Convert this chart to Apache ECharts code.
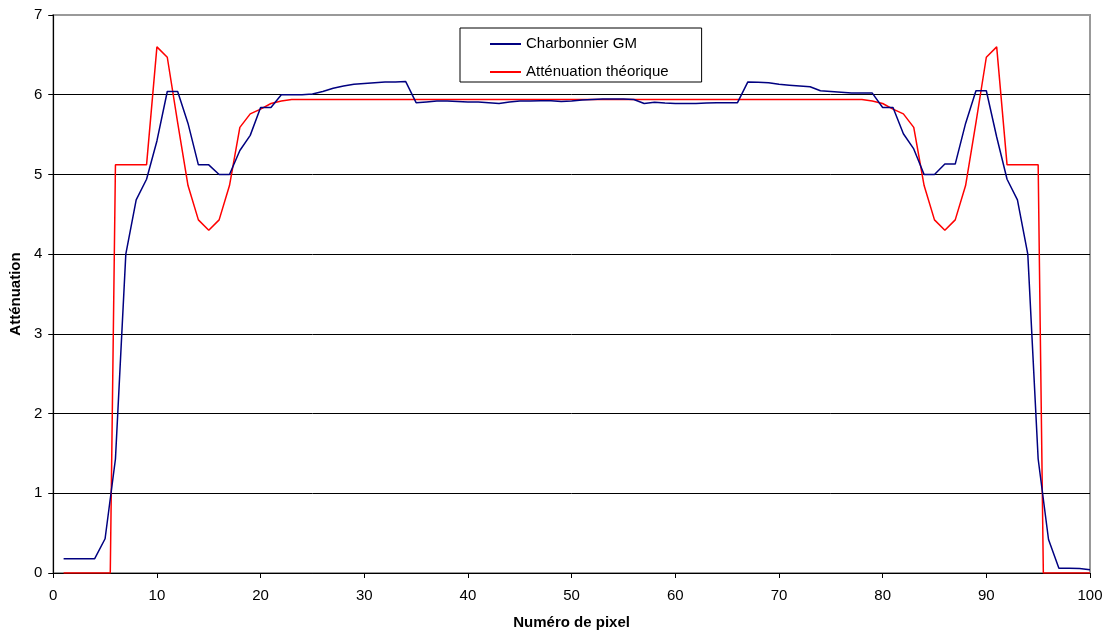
<!DOCTYPE html>
<html>
<head>
<meta charset="utf-8">
<script src="https://cdn.jsdelivr.net/npm/echarts@6/dist/echarts.min.js"></script>
<style>html,body{margin:0;padding:0;background:#fff;}#c{width:1109px;height:635px;}</style>
</head>
<body>
<div id="c"></div>
<script>
// Pixel indices (x) for the measured curve
const pixels = [1,2,3,4,5,6,7,8,9,10,11,12,13,14,15,16,17,18,19,20,
  21,22,23,24,25,26,27,28,29,30,31,32,33,34,35,36,37,38,39,40,
  41,42,43,44,45,46,47,48,49,50,51,52,53,54,55,56,57,58,59,60,
  61,62,63,64,65,66,67,68,69,70,71,72,73,74,75,76,77,78,79,80,
  81,82,83,84,85,86,87,88,89,90,91,92,93,94,95,96,97,98,99,100];
// Charbonnier GM
const charbonnier = [0.18,0.18,0.18,0.18,0.43,1.43,4.00,4.68,4.94,5.42,
  6.04,6.04,5.64,5.12,5.12,5.00,5.00,5.30,5.49,5.84,
  5.84,6.00,6.00,6.00,6.01,6.04,6.08,6.11,6.13,6.14,
  6.15,6.16,6.16,6.165,5.90,5.91,5.92,5.92,5.915,5.91,
  5.91,5.90,5.89,5.91,5.92,5.92,5.925,5.925,5.915,5.92,
  5.935,5.94,5.945,5.945,5.945,5.94,5.89,5.905,5.895,5.89,
  5.89,5.89,5.895,5.90,5.90,5.90,6.16,6.155,6.15,6.13,
  6.12,6.11,6.10,6.05,6.04,6.03,6.02,6.02,6.02,5.84,
  5.84,5.51,5.32,5.00,5.00,5.13,5.13,5.64,6.05,6.05,
  5.47,4.94,4.68,4.00,1.43,0.42,0.06,0.06,0.055,0.04];
// Theoretical attenuation: x positions (includes the half-pixel edges)
const theoX = [1,2,3,4,5,5.5,6,7,8,9,10,11,12,13,14,15,16,17,18,19,20,
  21,22,23,24,25,26,27,28,29,30,31,32,33,34,35,36,37,38,39,40,
  41,42,43,44,45,46,47,48,49,50,51,52,53,54,55,56,57,58,59,60,
  61,62,63,64,65,66,67,68,69,70,71,72,73,74,75,76,77,78,79,80,
  81,82,83,84,85,86,87,88,89,90,91,92,93,94,95,95.5,96,97,98,99,100];
const theoY = [0,0,0,0,0,0,5.12,5.12,5.12,5.12,6.6,6.47,5.65,4.86,4.43,4.30,4.43,4.86,5.59,5.76,5.82,
  5.89,5.92,5.94,5.94,5.94,5.94,5.94,5.94,5.94,5.94,5.94,5.94,5.94,5.94,5.94,5.94,5.94,5.94,5.94,5.94,
  5.94,5.94,5.94,5.94,5.94,5.94,5.94,5.94,5.94,5.94,5.94,5.94,5.94,5.94,5.94,5.94,5.94,5.94,5.94,5.94,
  5.94,5.94,5.94,5.94,5.94,5.94,5.94,5.94,5.94,5.94,5.94,5.94,5.94,5.94,5.94,5.94,5.94,5.94,5.92,5.89,
  5.82,5.76,5.59,4.86,4.43,4.30,4.43,4.86,5.65,6.47,6.6,5.12,5.12,5.12,5.12,0,0,0,0,0,0];

const seriesNames = ['Charbonnier GM', 'Atténuation théorique'];
const xTitle = 'Numéro de pixel';
const yTitle = 'Atténuation';

const blueData = pixels.map((x, i) => [x, charbonnier[i]]);
const redData = theoX.map((x, i) => [x, theoY[i]]);

const chart = echarts.init(document.getElementById('c'), null, {renderer: 'canvas'});
const font = 'Liberation Sans, Arial, sans-serif';
chart.setOption({
  animation: false,
  backgroundColor: '#fff',
  grid: {left: 53, right: 19, top: 15, bottom: 60, show: true, borderColor: '#999', borderWidth: 2, containLabel: false},
  legend: {
    orient: 'vertical',
    left: 460, top: 28,
    padding: [7, 33, 1, 30],
    backgroundColor: '#fff',
    borderColor: '#000', borderWidth: 1,
    itemWidth: 31, itemHeight: 2, itemGap: 10,
    icon: 'rect',
    textStyle: {fontFamily: font, fontSize: 15, color: '#000', lineHeight: 18},
    data: seriesNames
  },
  xAxis: {
    type: 'value', min: 0, max: 100, interval: 10,
    name: xTitle, nameLocation: 'middle', nameGap: 42,
    nameTextStyle: {fontFamily: font, fontSize: 15, fontWeight: 'bold', color: '#000'},
    axisLine: {show: true, lineStyle: {color: '#000', width: 1}},
    axisTick: {show: true, inside: false, length: 5, lineStyle: {color: '#000'}},
    axisLabel: {fontFamily: font, fontSize: 15, color: '#000', margin: 15},
    splitLine: {show: false}
  },
  yAxis: {
    type: 'value', min: 0, max: 7, interval: 1,
    name: yTitle, nameLocation: 'middle', nameGap: 27, nameRotate: 90,
    nameTextStyle: {fontFamily: font, fontSize: 15, fontWeight: 'bold', color: '#000'},
    axisLine: {show: true, lineStyle: {color: '#000', width: 1}},
    axisTick: {show: true, inside: false, length: 5, lineStyle: {color: '#000'}},
    axisLabel: {fontFamily: font, fontSize: 15, color: '#000', margin: 11},
    splitLine: {show: true, lineStyle: {color: ['#000','#000','#000','#000','#000','#000','#000','#999'], width: 1}}
  },
  series: [
    {name: seriesNames[0], type: 'line', data: blueData, showSymbol: false, symbol: 'none',
     lineStyle: {color: '#000080', width: 1.5}, itemStyle: {color: '#000080'}, z: 3},
    {name: seriesNames[1], type: 'line', data: redData, showSymbol: false, symbol: 'none',
     lineStyle: {color: '#ff0000', width: 1.5}, itemStyle: {color: '#ff0000'}, z: 2}
  ]
});
</script>
</body>
</html>
